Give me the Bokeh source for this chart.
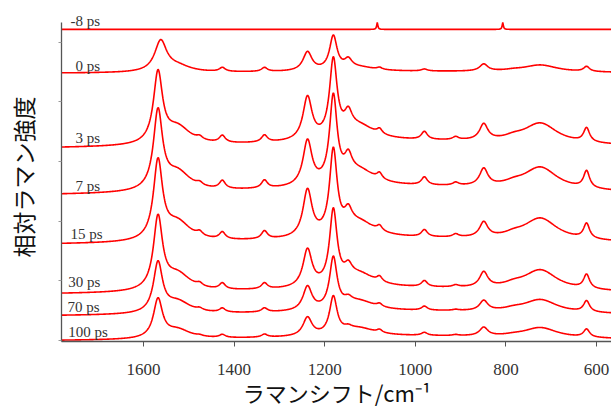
import numpy as np
from bokeh.plotting import figure
from bokeh.models import Range1d, FixedTicker, Label, ColumnDataSource
from bokeh.embed import file_html
from bokeh.resources import INLINE

# ---------------- data ----------------
shift_left, shift_right = 1781, 567            # cm^-1 span of the axis
x_ticks = [600, 800, 1000, 1200, 1400, 1600]
y_ticks = [1, 61, 121, 181, 241, 301]

trace_labels = ["-8 ps", "0 ps", "3 ps", "7 ps", "15 ps", "30 ps", "70 ps", "100 ps"]
# vertical offset (stacking) of each trace, relative-intensity units
trace_offset = [314, 269.4, 192.5, 145, 96, 46, 24.4, -0.6]

# Raman bands (centre, half width) in cm^-1
band_center = [1568, 1562, 1525, 1476, 1426, 1333, 1238, 1181, 1148, 1125,
               1079, 980, 911, 849, 783, 724, 622, 1000, 1084, 807]
band_hwhm = [12, 16, 35, 8, 8, 8, 12, 10, 10, 45,
             7, 8, 8, 11, 25, 45, 8, 500, 1.5, 1.5]

# band intensities of each trace (rows follow trace_labels)
amp_m8 = [0, 0, 0, 0, 0, 0, 0, 0, 0, 0, 0, 0, 0, 0, 0, 0, 0, 0, 7, 7]
amp_0 = [0, 30.5, 6, 0, 4, 4, 19, 34, 8.5, 4, 2, 2, 0, 7, 1, 7, 5, 2, 0, 0]
amp_3 = [70, 0, 17.6, 3, 7, 7, 43, 77, 16.7, 15, 5, 8, 3, 16, 3, 20, 14, 8.5, 0, 0]
amp_7 = [78, 0, 19, 3, 8, 8, 45, 86, 18, 16, 6, 8, 3, 17, 3, 22, 17, 10, 0, 0]
amp_15 = [78, 0, 19, 4, 7, 8, 47, 83.5, 15, 16, 5, 7, 3, 15, 3, 22, 15, 7, 0, 0]
amp_30 = [72, 0, 17, 3, 6, 6, 37.5, 74, 11, 14, 5, 6, 2, 15, 3, 20, 14, 7, 0, 0]
amp_70 = [49.5, 0, 12, 2, 4, 4, 24, 51, 5, 10, 3, 4, 1, 10, 2, 13, 11, 5.6, 0, 0]
amp_100 = [38.5, 0, 9, 1, 3, 3, 18.5, 37.5, 3, 8, 3, 3, 1, 8.5, 1, 10, 8, 5.6, 0, 0]
trace_amps = [amp_m8, amp_0, amp_3, amp_7, amp_15, amp_30, amp_70, amp_100]

# label anchor (left edge, vertical centre) of each trace's name
label_x = [1761, 1750, 1750, 1750, 1761, 1766, 1768, 1766]
label_y = [322, 277, 205, 156, 108, 60, 35, 10]

# ---------------- build spectra ----------------
shift = np.arange(shift_left, shift_right - 1, -1.0)
c = np.array(band_center, dtype=float)
w = np.array(band_hwhm, dtype=float)
profiles = 1.0 / (1.0 + ((shift[:, None] - c[None, :]) / w[None, :]) ** 2)

xs, ys = [], []
for off, amps in zip(trace_offset, trace_amps):
    xs.append(shift)
    ys.append(off + profiles @ np.array(amps, dtype=float))

src = ColumnDataSource(dict(xs=xs, ys=ys))

# ---------------- figure ----------------
p = figure(width=611, height=410, output_backend="svg", toolbar_location=None,
           x_range=Range1d(shift_left, shift_right), y_range=Range1d(0, 331),
           min_border_left=61, min_border_right=0, min_border_top=12,
           min_border_bottom=67)
p.outline_line_color = None
p.grid.visible = False
p.background_fill_color = "white"

p.multi_line(xs="xs", ys="ys", source=src, line_color="#ff0000", line_width=1.6)

ax = p.xaxis[0]
ax.ticker = FixedTicker(ticks=x_ticks)
ax.major_tick_out = 5
ax.major_tick_in = 0
ax.minor_tick_out = 0
ax.minor_tick_in = 0
ax.axis_line_color = "#555555"
ax.axis_line_width = 1.3
ax.major_tick_line_color = "#555555"
ax.major_label_text_font = "Liberation Serif"
ax.major_label_text_font_size = "17px"
ax.major_label_text_color = "#333333"
ax.major_label_standoff = 17
ax.axis_label = "ラマンシフト/cm⁻¹"
ax.axis_label_text_font = "Noto Sans CJK JP"
ax.axis_label_text_font_size = "22px"
ax.axis_label_text_font_style = "normal"
ax.axis_label_text_color = "#111111"
ax.axis_label_standoff = -2

ay = p.yaxis[0]
ay.ticker = FixedTicker(ticks=[], minor_ticks=y_ticks)
ay.bounds = (0, 321)
ay.major_tick_out = 0
ay.major_tick_in = 0
ay.minor_tick_out = 3
ay.minor_tick_in = 0
ay.minor_tick_line_color = "#999999"
ay.axis_line_color = "#555555"
ay.axis_line_width = 1.3
ay.major_label_standoff = 0
ay.axis_label = "相対ラマン強度"
ay.axis_label_text_font = "Noto Sans CJK JP"
ay.axis_label_text_font_size = "23px"
ay.axis_label_text_font_style = "normal"
ay.axis_label_text_color = "#111111"
ay.axis_label_standoff = 19

for name, lx, ly in zip(trace_labels, label_x, label_y):
    p.add_layout(Label(x=lx, y=ly, text=name, text_font="Liberation Serif",
                       text_font_size="15px", text_color="#333333",
                       text_align="left", text_baseline="middle"))

open("out.html", "w").write(file_html(p, INLINE))
